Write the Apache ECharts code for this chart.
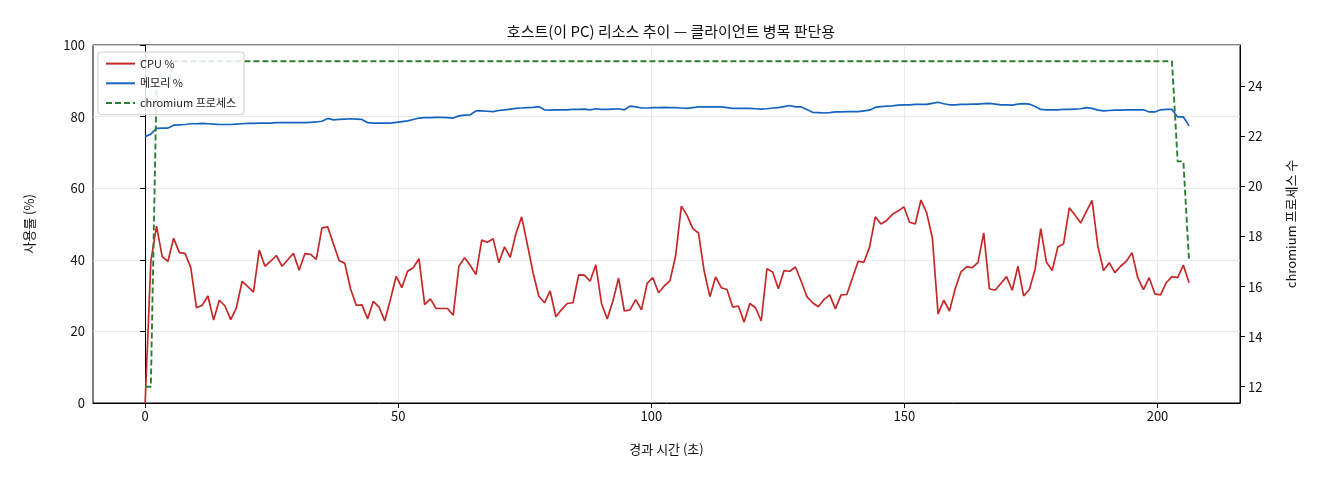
<!DOCTYPE html>
<html>
<head>
<meta charset="utf-8">
<script src="https://cdn.jsdelivr.net/npm/echarts@6/dist/echarts.min.js"></script>
<style>
  html, body { margin: 0; padding: 0; background: #fff; }
  #main { width: 1320px; height: 480px; }
</style>
</head>
<body>
<div id="main"></div>
<script>
// sampling step (about 184 samples over 206 s)
var SAMPLE_SEC = 1.127

var cpuPct = [
  0, 39.6, 49.4, 40.8, 39.6, 46, 42, 41.8, 37.8, 26.6,
  27.3, 29.9, 23.2, 28.7, 27.1, 23.3, 26.6, 34, 32.5, 31,
  42.7, 38.2, 39.6, 41.2, 38.2, 40, 41.8, 37.1, 41.7, 41.5,
  40.1, 48.9, 49.2, 44.5, 39.8, 39, 31.9, 27.3, 27.4, 23.5,
  28.4, 26.8, 22.9, 28.9, 35.4, 32.2, 36.8, 37.8, 40.3, 27.5,
  29.1, 26.4, 26.4, 26.4, 24.5, 38.2, 40.6, 38.4, 35.9, 45.5,
  44.9, 45.9, 39.2, 43.6, 40.7, 47.3, 52, 44.3, 36.4, 29.9,
  28, 31.3, 24.1, 26.1, 27.8, 28, 35.8, 35.7, 34, 38.6,
  27.8, 23.5, 28.5, 34.9, 25.7, 26, 28.9, 26, 33.4, 35,
  30.8, 32.7, 34.1, 41.2, 55, 52.4, 48.7, 47.5, 36.8, 29.7,
  35.2, 32.2, 31.7, 26.8, 27.1, 22.6, 27.8, 26.6, 22.9, 37.5,
  36.6, 31.9, 37, 36.8, 38, 34, 29.7, 28, 26.9, 28.9,
  30.2, 26.3, 30.2, 30.3, 35, 39.6, 39.3, 43.6, 52, 50,
  51, 52.7, 53.6, 54.8, 50.5, 50, 56.7, 53.1, 46.1, 24.9,
  28.7, 25.7, 31.9, 36.6, 38, 37.8, 39.3, 47.5, 31.9, 31.5,
  33.4, 35.3, 31.5, 38.2, 29.9, 31.7, 37.3, 48.7, 39.3, 37,
  43.6, 44.5, 54.5, 52.5, 50.3, 53.5, 56.6, 43.9, 37, 39.2,
  36.4, 38.2, 39.6, 42, 35, 31.7, 35, 30.5, 30.2, 33.6,
  35.3, 35, 38.5, 33.6
]

var memPct = [
  74.4, 75.1, 76.7, 76.8, 76.8, 77.6, 77.7, 77.8, 78.0, 78.0,
  78.1, 78.0, 77.9, 77.8, 77.8, 77.8, 77.9, 78.0, 78.1, 78.1,
  78.2, 78.2, 78.2, 78.3, 78.3, 78.3, 78.3, 78.3, 78.3, 78.4,
  78.5, 78.7, 79.5, 79.1, 79.2, 79.3, 79.4, 79.3, 79.2, 78.3,
  78.2, 78.2, 78.2, 78.2, 78.4, 78.6, 78.8, 79.2, 79.6, 79.7,
  79.7, 79.8, 79.8, 79.7, 79.6, 80.2, 80.4, 80.5, 81.6, 81.6,
  81.5, 81.4, 81.7, 81.9, 82.1, 82.3, 82.4, 82.5, 82.6, 82.8,
  81.9, 81.8, 81.9, 81.9, 81.9, 82.0, 82.0, 82.1, 81.9, 82.2,
  82.0, 82.0, 82.1, 82.2, 81.9, 82.9, 82.7, 82.4, 82.4, 82.5,
  82.5, 82.6, 82.5, 82.5, 82.4, 82.3, 82.5, 82.7, 82.7, 82.7,
  82.7, 82.7, 82.5, 82.3, 82.3, 82.3, 82.3, 82.2, 82.1, 82.2,
  82.4, 82.5, 82.8, 83.1, 82.7, 82.7, 82.0, 81.2, 81.1, 81.0,
  81.1, 81.3, 81.3, 81.4, 81.4, 81.4, 81.6, 81.8, 82.6, 82.8,
  82.9, 83.0, 83.2, 83.3, 83.3, 83.4, 83.4, 83.4, 83.7, 84.0,
  83.6, 83.3, 83.3, 83.4, 83.4, 83.5, 83.5, 83.6, 83.7, 83.5,
  83.3, 83.3, 83.2, 83.5, 83.6, 83.5, 82.8, 82.0, 81.9, 81.9,
  81.9, 82.0, 82.0, 82.1, 82.2, 82.5, 82.3, 81.8, 81.6, 81.7,
  81.8, 81.8, 81.9, 81.9, 81.9, 81.9, 81.3, 81.3, 81.9, 82.0,
  82.0, 79.9, 79.9, 77.4
]

var procCount = [
  12, 12, 24, 24, 24,
  25, 25, 25, 25, 25, 25, 25, 25, 25, 25, 25, 25, 25, 25, 25, 25, 25, 25, 25, 25,
  25, 25, 25, 25, 25, 25, 25, 25, 25, 25, 25, 25, 25, 25, 25, 25, 25, 25, 25, 25,
  25, 25, 25, 25, 25, 25, 25, 25, 25, 25, 25, 25, 25, 25, 25, 25, 25, 25, 25, 25,
  25, 25, 25, 25, 25, 25, 25, 25, 25, 25, 25, 25, 25, 25, 25, 25, 25, 25, 25, 25,
  25, 25, 25, 25, 25, 25, 25, 25, 25, 25, 25, 25, 25, 25, 25, 25, 25, 25, 25, 25,
  25, 25, 25, 25, 25, 25, 25, 25, 25, 25, 25, 25, 25, 25, 25, 25, 25, 25, 25, 25,
  25, 25, 25, 25, 25, 25, 25, 25, 25, 25, 25, 25, 25, 25, 25, 25, 25, 25, 25, 25,
  25, 25, 25, 25, 25, 25, 25, 25, 25, 25, 25, 25, 25, 25, 25, 25, 25, 25, 25, 25,
  25, 25, 25, 25, 25, 25, 25, 25, 25, 25, 25, 25, 25, 25, 25, 25,
  21, 21, 17
]

var xTicks = [0, 50, 100, 150, 200]
var procTicks = [12, 14, 16, 18, 20, 22, 24]

var FONT = 'Noto Sans CJK KR'

function pairs(vals) {
  return vals.map(function (v, i) {
    return [i * SAMPLE_SEC, v]
  })
}

var dom = document.getElementById('main')
var chart = echarts.init(dom)

var option = {
  backgroundColor: '#fff',
  animation: false,
  textStyle: { fontFamily: FONT },
  title: {
    text: '호스트(이 PC) 리소스 추이 — 클라이언트 병목 판단용',
    left: 666,
    top: 19,
    textAlign: 'center',
    textStyle: { fontFamily: FONT, fontWeight: 'normal', fontSize: 15, color: '#111' }
  },
  legend: {
    orient: 'vertical',
    left: 98,
    top: 52,
    padding: [6, 8, 6, 7],
    itemWidth: 29,
    itemHeight: 14,
    itemGap: 8.5,
    itemStyle: { opacity: 0 }, // line only, no marker
    backgroundColor: 'rgba(255,255,255,0.85)',
    borderColor: '#d0d0d0',
    borderWidth: 1,
    borderRadius: 3,
    textStyle: { fontFamily: FONT, fontSize: 11, color: '#222' },
    data: ['CPU %', '메모리 %', 'chromium 프로세스']
  },
  grid: {
    left: 93,
    right: 80,
    top: 45,
    bottom: 77,
    show: true,
    borderColor: '#000',
    borderWidth: 1,
    backgroundColor: 'transparent'
  },
  xAxis: {
    type: 'value',
    min: -10.3,
    max: 216.3,
    name: '경과 시간 (초)',
    nameLocation: 'middle',
    nameGap: 40,
    nameTextStyle: { fontFamily: FONT, fontSize: 13, color: '#111' },
    axisLine: { lineStyle: { color: '#000' } },
    axisTick: { show: true, length: 5, inside: false, customValues: xTicks, lineStyle: { color: '#000' } },
    axisLabel: { customValues: xTicks, fontSize: 13, color: '#111', margin: 7 },
    splitLine: { show: true, lineStyle: { color: '#e4e4e4', width: 0.8 } }
  },
  yAxis: [
    {
      type: 'value',
      min: 0,
      max: 100,
      interval: 20,
      name: '사용률 (%)',
      nameLocation: 'middle',
      nameRotate: 90,
      nameGap: 57,
      nameTextStyle: { fontFamily: FONT, fontSize: 13, color: '#111' },
      axisLine: { show: true, lineStyle: { color: '#000' } },
      axisTick: { show: true, length: 5, lineStyle: { color: '#000' } },
      axisLabel: { fontSize: 13, color: '#111', margin: 8 },
      splitLine: { show: true, lineStyle: { color: '#e4e4e4', width: 0.8 } }
    },
    {
      type: 'value',
      position: 'right',
      min: 11.35,
      max: 25.65,
      name: 'chromium 프로세스 수',
      nameLocation: 'middle',
      nameRotate: 90,
      nameGap: 45,
      nameTextStyle: { fontFamily: FONT, fontSize: 13, color: '#111' },
      axisLine: { show: true, lineStyle: { color: '#000' } },
      axisTick: { show: true, length: 5, customValues: procTicks, lineStyle: { color: '#000' } },
      axisLabel: { customValues: procTicks, fontSize: 13, color: '#111', margin: 8 },
      splitLine: { show: false }
    }
  ],
  series: [
    {
      name: 'CPU %',
      type: 'line',
      yAxisIndex: 0,
      symbol: 'none',
      color: '#c62828',
      lineStyle: { color: '#c62828', width: 1.7 },
      data: pairs(cpuPct)
    },
    {
      name: '메모리 %',
      type: 'line',
      yAxisIndex: 0,
      symbol: 'none',
      color: '#1565c0',
      lineStyle: { color: '#1565c0', width: 1.7 },
      data: pairs(memPct)
    },
    {
      name: 'chromium 프로세스',
      type: 'line',
      yAxisIndex: 1,
      symbol: 'none',
      color: '#2e7d32',
      lineStyle: { color: '#2e7d32', width: 1.9, type: [6, 3] },
      z: 3,
      data: pairs(procCount)
    }
  ]
}

chart.setOption(option)
</script>
</body>
</html>
